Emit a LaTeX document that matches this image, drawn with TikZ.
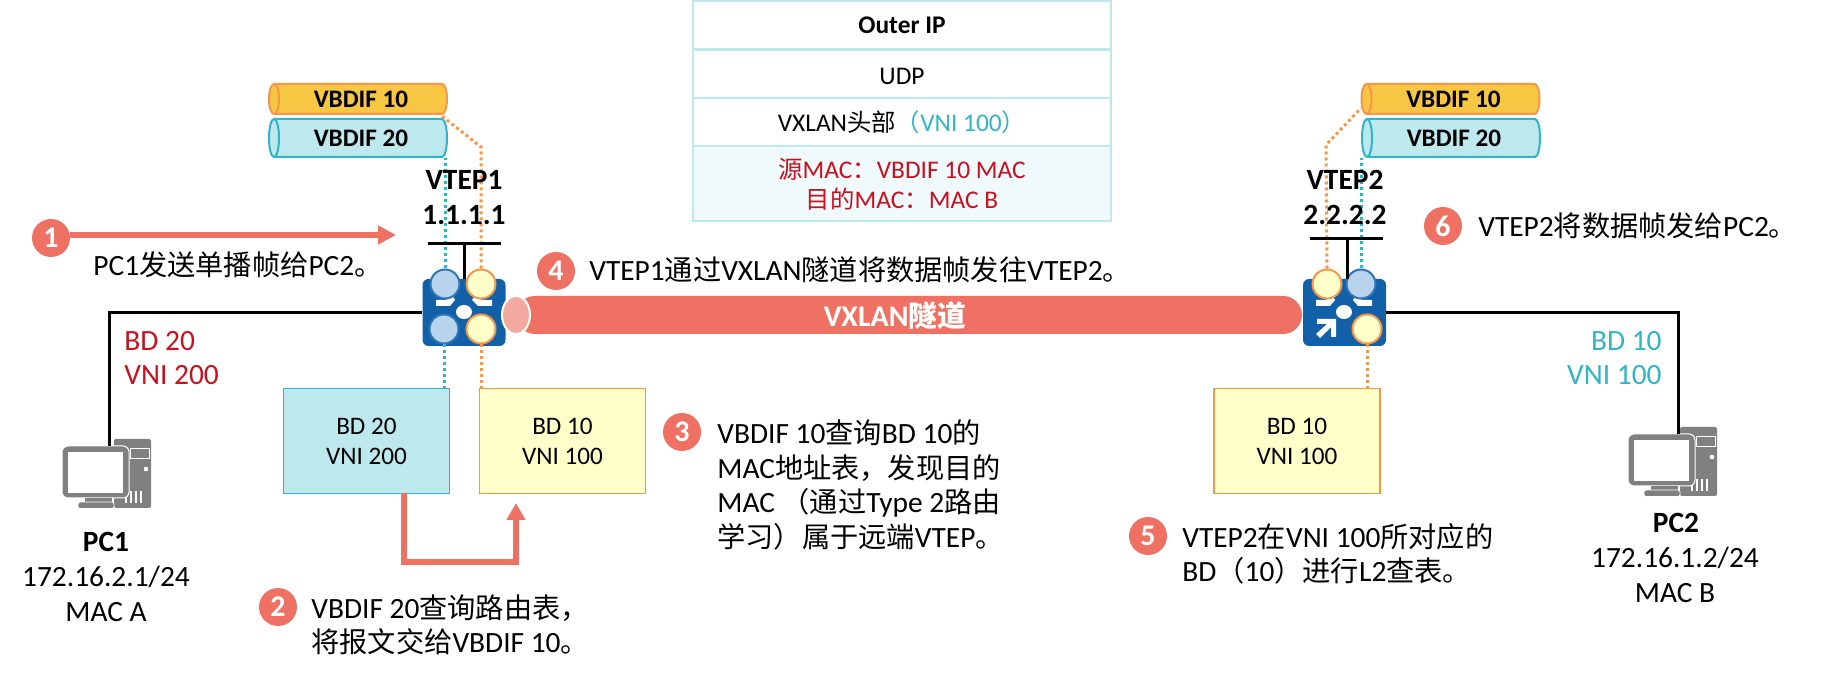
\documentclass[tikz,border=0pt]{standalone}
\usepackage{fontspec}
\usepackage{xcolor}
\setmainfont{Carlito}
\newfontfamily\cjk[Scale=0.96]{Noto Sans CJK SC}
\usetikzlibrary{shapes.geometric,arrows.meta}
\newcommand{\zh}[1]{{\cjk #1}}
\definecolor{salmon}{HTML}{EE7163}
\definecolor{saltint}{HTML}{F3A9A0}
\definecolor{swblue}{HTML}{1261A8}
\definecolor{portblue}{HTML}{B8D3EC}
\definecolor{portedge}{HTML}{2F75B5}
\definecolor{ember}{HTML}{F79646}
\definecolor{pale}{HTML}{FFFFC9}
\definecolor{gold}{HTML}{F7C744}
\definecolor{teal}{HTML}{31B4C6}
\definecolor{ice}{HTML}{BDE9EE}
\definecolor{frost}{HTML}{F0FAFC}
\definecolor{alert}{HTML}{C8101E}
\definecolor{pcgray}{HTML}{808080}
\tikzset{
  every node/.append style={font=\fontsize{14.7pt}{17pt}\selectfont, inner sep=0pt},
  port/.style={circle, minimum size=14.5pt, line width=1pt},
  portb/.style={port, draw=portedge, fill=portblue},
  porty/.style={port, draw=ember, fill=pale},
  switchbox/.style={rectangle, rounded corners=3pt, fill=swblue, minimum width=41.5pt, minimum height=33.5pt},
  barrel/.style={cylinder, shape border rotate=180, aspect=0.6, draw, line width=1pt, cylinder uses custom fill, minimum height=89pt, font=\fontsize{12.6pt}{15pt}\selectfont\bfseries},
  barrely/.style={barrel, draw=ember, cylinder body fill=gold, cylinder end fill=gold, minimum width=15pt},
  barrelb/.style={barrel, draw=teal, cylinder body fill=ice, cylinder end fill=ice, minimum width=19pt},
  dotb/.style={teal, line width=1.5pt, dash pattern=on 1.5pt off 1.5pt},
  doty/.style={ember, line width=1.5pt, dash pattern=on 1.5pt off 1.5pt},
  step num/.style={circle, fill=salmon, text=white, minimum size=19pt, font=\fontsize{15pt}{16pt}\selectfont\bfseries},
  bdbox/.style={rectangle, line width=0.8pt, minimum width=83pt, minimum height=52.5pt, align=center, font=\fontsize{12.6pt}{15pt}\selectfont},
  bdb/.style={bdbox, draw=teal, fill=ice},
  bdy/.style={bdbox, draw=ember, fill=pale},
  cellbox/.style={rectangle, draw=ice, line width=1pt, minimum width=209pt, minimum height=24.3pt, font=\fontsize{12.7pt}{15pt}\selectfont},
  wire/.style={line width=1.5pt, black},
  note/.style={anchor=west, align=left, font=\fontsize{14.7pt}{17.3pt}\selectfont},
  hosttitle/.style={font=\fontsize{14.7pt}{17pt}\selectfont\bfseries},
}
\newcommand{\pcicon}[1]{%
  \begin{scope}[shift={(#1)}]
    \fill[pcgray, rounded corners=1pt] (114,439) rectangle (151,508);
    \draw[white, line width=0.5pt] (130,449) rectangle (149,459);
    \fill[white] (146,469) circle (2.3);
    \foreach \xi in {126,131,136,141} {\draw[white, line width=0.6pt] (\xi,491) -- (\xi,503);}
    \fill[pcgray, rounded corners=3pt, draw=white, line width=0.5pt] (62,446) rectangle (129,498);
    \fill[white] (68,452) rectangle (123,493);
    \fill[pcgray] (85,498) rectangle (112,503);
    \fill[pcgray, rounded corners=1pt, draw=white, line width=0.4pt] (78,502) rectangle (114,508.5);
  \end{scope}}
\begin{document}
\begin{tikzpicture}[x=0.5pt, y=-0.5pt]
    \useasboundingbox (0,0) rectangle (1822,678);
    % outer header table
    \node[cellbox] (rowip) at (902,25) {\textbf{Outer IP}};
    \node[cellbox] (rowudp) at (902,74) {\raisebox{-1.2pt}[\height][0pt]{UDP}};
    \node[cellbox] (rowvx) at (902,122) {\raisebox{-0.5pt}{VXLAN\zh{头部}\textcolor{teal}{\zh{（}VNI 100\zh{）}}}};
    \node[cellbox, fill=frost, minimum height=37.5pt, align=center, text=alert] (rowmac) at (902,184) {\zh{源}MAC\zh{：}VBDIF 10 MAC\\\zh{目的}MAC\zh{：}MAC B};
    % switches
    \node[switchbox] (sw1) at (464,312.5) {};
    \node[switchbox] (sw2) at (1344.5,312.5) {};
    \fill[white] (436,300) -- (446,300) -- (452,295) -- (455,300) -- (450,306) -- (436,306) -- cycle;
    \fill[white] (492,300) -- (482,300) -- (476,295) -- (472,300) -- (478,306) -- (492,306) -- cycle;
    \fill[white] (1316,300) -- (1326,300) -- (1332,295) -- (1335,300) -- (1330,306) -- (1316,306) -- cycle;
    \fill[white] (1372,300) -- (1362,300) -- (1356,295) -- (1353,300) -- (1358,306) -- (1372,306) -- cycle;
    \fill[white] (1317,319) -- (1336,319) -- (1336,337) -- (1331,337) -- (1331,327) -- (1320,338) -- (1316,334) -- (1327,324) -- (1317,324) -- cycle;
    \fill[white] (464,312) ellipse (8 and 7);
    \fill[white] (1344,312) ellipse (8 and 7);
    \node[portb] (p1a) at (445,284) {};
    \node[porty] (p1b) at (481,284) {};
    \node[portb] (p1c) at (444,329) {};
    \node[porty] (p1d) at (481,329) {};
    \node[porty] (p2a) at (1327,284) {};
    \node[portb] (p2b) at (1361,284) {};
    \node[porty] (p2d) at (1367,329) {};
    % vbdif tubes
    \node[barrely] (vb1y) at (361,99) {VBDIF 10};
    \node[barrelb] (vb1b) at (361,138) {VBDIF 20};
    \node[barrely] (vb2y) at (1453.5,99) {VBDIF 10};
    \node[barrelb] (vb2b) at (1454,138) {VBDIF 20};
    % bd boxes
    \node[bdb] (bd1) at (366.5,441) {BD 20\\VNI 200};
    \node[bdy] (bd2) at (562.5,441) {BD 10\\VNI 100};
    \node[bdy] (bd3) at (1297,441) {BD 10\\VNI 100};
    % dotted links
    \coordinate (knee1) at (481,147);
    \coordinate (knee2) at (1326,145);
    \draw[dotb] (p1a.north) -- (p1a.north |- vb1b.south);
    \draw[doty] (p1b.north) -- (knee1) -- (438,113);
    \draw[doty] (p2a.north) -- (knee2) -- (1361,108);
    \draw[dotb] (p2b.north) -- (p2b.north |- vb2b.south);
    \draw[dotb] (p1c.south) -- (p1c.south |- bd1.north);
    \draw[doty] (p1d.south) -- (p1d.south |- bd2.north);
    \draw[doty] (p2d.south) -- (p2d.south |- bd3.north);
    % stems
    \coordinate (bar1) at (464,244);
    \coordinate (bar2) at (1347,239);
    \draw[wire] (428,244) -- (501,244);
    \draw[wire] (bar1) -- (464,279);
    \draw[wire] (1310,239) -- (1383,239);
    \draw[wire] (bar2) -- (1347,279);
    \node[hosttitle] (vtep1) at (464,180) {VTEP1};
    \node[hosttitle] (ip1) at (464,215) {1.1.1.1};
    \node[hosttitle] (vtep2) at (1345,180) {VTEP2};
    \node[hosttitle] (ip2) at (1345,215) {2.2.2.2};
    % tunnel
    \fill[salmon, rounded corners=9.5pt] (516,296) rectangle (1302,334);
    \draw[white, fill=saltint, line width=1pt] (516,315) ellipse (14 and 19);
    \node[text=white, font=\fontsize{15pt}{16pt}\selectfont\bfseries] (tunlabel) at (895,316) {VXLAN\zh{\bfseries 隧道}};
    % hosts
    \pcicon{0,0}
    \pcicon{1566,-12}
    \coordinate (pc1) at (109,446);
    \coordinate (pc2) at (1678,434);
    \draw[wire] (sw1.west) -| (pc1);
    \draw[wire] (sw2.east) -| (pc2);
    \node[hosttitle] (pcname1) at (106,542) {PC1};
    \node (pcip1) at (106,577) {172.16.2.1/24};
    \node (pcmac1) at (106,612) {MAC A};
    \node[hosttitle] (pcname2) at (1676,523) {PC2};
    \node (pcip2) at (1675,558) {172.16.1.2/24};
    \node (pcmac2) at (1675,593) {MAC B};
    \node[anchor=west, text=alert] (bdl1) at (124,341) {BD 20};
    \node[anchor=west, text=alert] (bdl2) at (124,375) {VNI 200};
    \node[anchor=east, text=teal] (bdr1) at (1662,341) {BD 10};
    \node[anchor=east, text=teal] (bdr2) at (1662,375) {VNI 100};
    % steps
    \node[step num] (n1) at (51,238) {1};
    \coordinate (n1tip) at (396,235);
    \draw[salmon, line width=3pt, -{Triangle[length=9pt, width=9pt]}] (70,235) -- (n1tip);
    \node[note] (t1) at (93,265) {PC1\zh{发送单播帧给}PC2\zh{。}};
    \node[step num] (n2) at (278,607) {2};
    \node[note] (t2) at (311,625) {VBDIF 20\zh{查询路由表，}\\\zh{将报文交给}VBDIF 10\zh{。}};
    \coordinate (n2a) at (404,493);
    \coordinate (n2b) at (516,503);
    \draw[salmon, line width=2.9pt, -{Triangle[length=8.5pt, width=9pt]}] (n2a) -- (404,562) -- (516,562) -- (n2b);
    \node[step num] (n3) at (682,432) {3};
    \node[note] (t3) at (717,485) {VBDIF 10\zh{查询}BD 10\zh{的}\\MAC\zh{地址表，发现目的}\\MAC \zh{（通过}Type 2\zh{路由}\\\zh{学习）属于远端}VTEP\zh{。}};
    \node[step num] (n4) at (556,271) {4};
    \node[note] (t4) at (589,270) {VTEP1\zh{通过}VXLAN\zh{隧道将数据帧发往}VTEP2\zh{。}};
    \node[step num] (n5) at (1148,536) {5};
    \node[note] (t5) at (1182,554) {VTEP2\zh{在}VNI 100\zh{所对应的}\\BD\zh{（}10\zh{）进行}L2\zh{查表。}};
    \node[step num] (n6) at (1443,226) {6};
    \node[note] (t6) at (1478,226) {VTEP2\zh{将数据帧发给}PC2\zh{。}};
\end{tikzpicture}
\end{document}
